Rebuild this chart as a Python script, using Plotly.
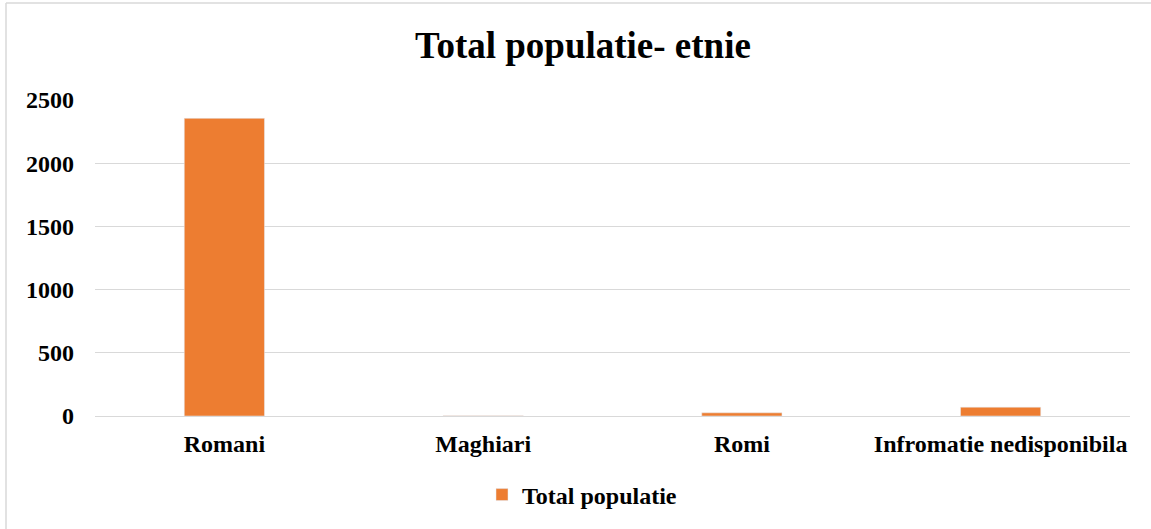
import plotly.graph_objects as go

# categories and values
etnii = ["Romani", "Maghiari", "Romi", "Infromatie nedisponibila"]
total_populatie = [2355, 2, 25, 70]
y_ticks = [0, 500, 1000, 1500, 2000, 2500]

font_serif = "Liberation Serif, Times New Roman, serif"

fig = go.Figure()
fig.add_trace(go.Bar(
    x=etnii,
    y=total_populatie,
    name="<b>Total populatie</b>",
    marker=dict(color="#ED7D31"),
    width=0.31,
    showlegend=True,
))

# chart frame: only the left and top edges fall inside the picture
frame_left = (6 - 95) / 1035
frame_top = (416 - 3) / 316
frame_bottom = -(529 - 416) / 316
frame_right = (1151 - 95) / 1035

fig.update_layout(
    width=1151,
    height=529,
    paper_bgcolor="white",
    plot_bgcolor="white",
    font=dict(family=font_serif, color="black", size=24),
    title=dict(
        text="<b>Total populatie- etnie</b>",
        x=583 / 1151,
        xanchor="center",
        y=1 - 45 / 529,
        yanchor="middle",
        font=dict(size=37, family=font_serif, color="black"),
    ),
    margin=dict(l=95, r=21, t=100, b=113),
    showlegend=True,
    legend=dict(
        orientation="h",
        x=(582 - 95) / 1035,
        xanchor="center",
        y=-(495 - 416) / 316,
        yanchor="middle",
        font=dict(size=24, family=font_serif),
    ),
    shapes=[
        dict(type="line", xref="paper", yref="paper",
             x0=frame_left, x1=frame_left, y0=frame_bottom, y1=frame_top,
             line=dict(color="#D9D9D9", width=1.5)),
        dict(type="line", xref="paper", yref="paper",
             x0=frame_left, x1=frame_right, y0=frame_top, y1=frame_top,
             line=dict(color="#D9D9D9", width=1.5)),
    ],
)

fig.update_yaxes(
    range=[0, 2500],
    tickvals=y_ticks,
    ticktext=[f"<b>{v}</b>" for v in y_ticks],
    showgrid=True,
    gridcolor="#D9D9D9",
    gridwidth=1,
    zeroline=False,
    showline=False,
    ticks="",
    ticklabelstandoff=20,
    tickfont=dict(size=24, family=font_serif),
)
fig.update_xaxes(
    tickvals=etnii,
    ticktext=[f"<b>{c}</b>" for c in etnii],
    showline=True,
    linecolor="#D9D9D9",
    linewidth=1,
    ticks="",
    ticklabelstandoff=6,
    tickfont=dict(size=24, family=font_serif),
)

fig.write_html(
    "out.html",
    config={"displayModeBar": False},
    post_script="document.body.style.margin='0';",
)
